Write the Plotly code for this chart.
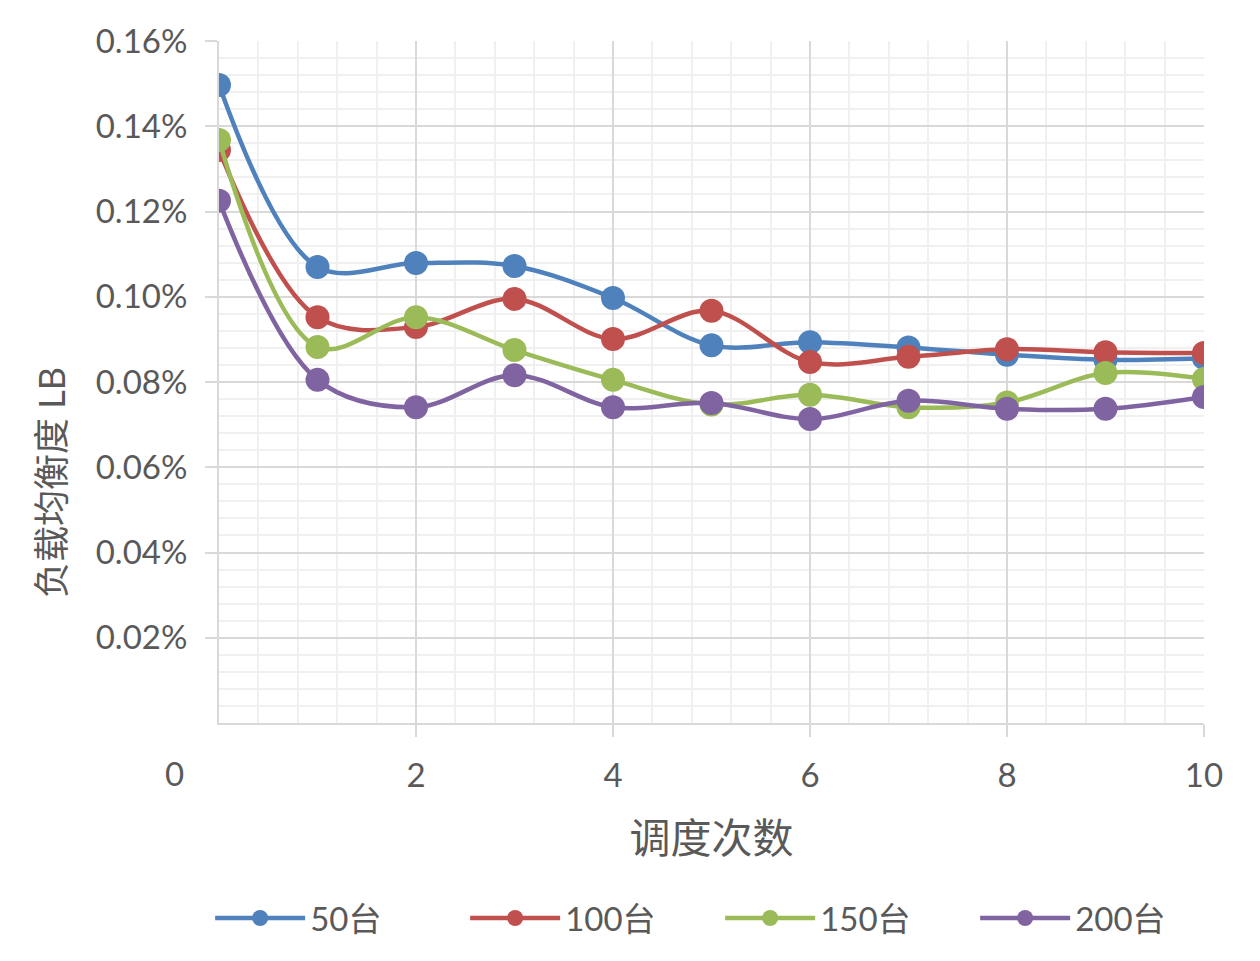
import plotly.graph_objects as go

x_vals = [0, 1, 2, 3, 4, 5, 6, 7, 8, 9, 10]
series_names = ["50台", "100台", "150台", "200台"]
lb_50 = [0.001497, 0.001070, 0.001079, 0.001072, 0.000997, 0.000886, 0.000893, 0.000881, 0.000864, 0.000852, 0.000856]
lb_100 = [0.001344, 0.000952, 0.000929, 0.000995, 0.000901, 0.000967, 0.000847, 0.000859, 0.000877, 0.000870, 0.000868]
lb_150 = [0.001368, 0.000882, 0.000952, 0.000875, 0.000805, 0.000747, 0.000770, 0.000741, 0.000752, 0.000821, 0.000807]
lb_200 = [0.001225, 0.000805, 0.000741, 0.000816, 0.000741, 0.000751, 0.000713, 0.000756, 0.000737, 0.000737, 0.000765]
colors = ["#4F81BD", "#C0504D", "#9BBB59", "#8064A2"]
y_tickvals = [0.0002, 0.0004, 0.0006, 0.0008, 0.0010, 0.0012, 0.0014, 0.0016]
y_ticktext = ["0.02%", "0.04%", "0.06%", "0.08%", "0.10%", "0.12%", "0.14%", "0.16%"]
x_tickvals = [2, 4, 6, 8, 10]

FONT = "Lato, Noto Sans CJK SC, sans-serif"
W, H = 1252, 953
fig = go.Figure()
for name, ys, c in zip(series_names, [lb_50, lb_100, lb_150, lb_200], colors):
    fig.add_trace(go.Scatter(
        x=x_vals, y=ys, name=name, mode="lines+markers",
        line=dict(color=c, width=4.5, shape="spline", smoothing=1.0),
        marker=dict(color=c, size=24),
    ))

fig.update_layout(
    width=W, height=H,
    margin=dict(l=211, r=56, t=33, b=238, autoexpand=False),
    paper_bgcolor="white", plot_bgcolor="white",
    font=dict(family=FONT, color="#595959", size=33),
    showlegend=True,
    legend=dict(orientation="h", x=-0.009, xanchor="left",
                y=-0.286, yanchor="middle",
                font=dict(size=33, color="#595959"), entrywidth=150, itemwidth=90,
                itemsizing="trace", tracegroupgap=0),
    xaxis=dict(range=[0, 10], tickvals=x_tickvals, showline=True, linecolor="#D9D9D9",
               linewidth=2, ticks="outside", ticklen=12, tickcolor="#D9D9D9", tickwidth=2,
               showgrid=True, gridcolor="#D9D9D9", gridwidth=2, zeroline=False,
               automargin=False, ticklabelstandoff=10,
               minor=dict(dtick=0.4, showgrid=True, gridcolor="#F0F0F0", gridwidth=2, ticks=""),
               tickfont=dict(size=33, color="#595959"),
               title=dict(text="调度次数", font=dict(size=41, color="#595959"), standoff=32)),
    yaxis=dict(range=[0, 0.0016], tickvals=y_tickvals, ticktext=y_ticktext, showline=True,
               linecolor="#D9D9D9", linewidth=2, ticks="outside", ticklen=12, tickcolor="#D9D9D9",
               tickwidth=2, showgrid=True, gridcolor="#D9D9D9", gridwidth=2, zeroline=False,
               automargin=False, ticklabelstandoff=11,
               minor=dict(dtick=0.00004, showgrid=True, gridcolor="#F0F0F0", gridwidth=2, ticks=""),
               tickfont=dict(size=33, color="#595959")),
)
fig.add_annotation(x=-0.1706, y=0.3534, xref="paper", yref="paper", text="负载均衡度 LB",
                   textangle=-90, showarrow=False, xanchor="center", yanchor="middle",
                   font=dict(size=36, color="#595959"))
fig.add_annotation(x=-0.0447, y=-0.0733, xref="paper", yref="paper", text="0", showarrow=False,
                   xanchor="center", yanchor="middle", font=dict(size=33, color="#595959"))
fig.write_html("out.html")
